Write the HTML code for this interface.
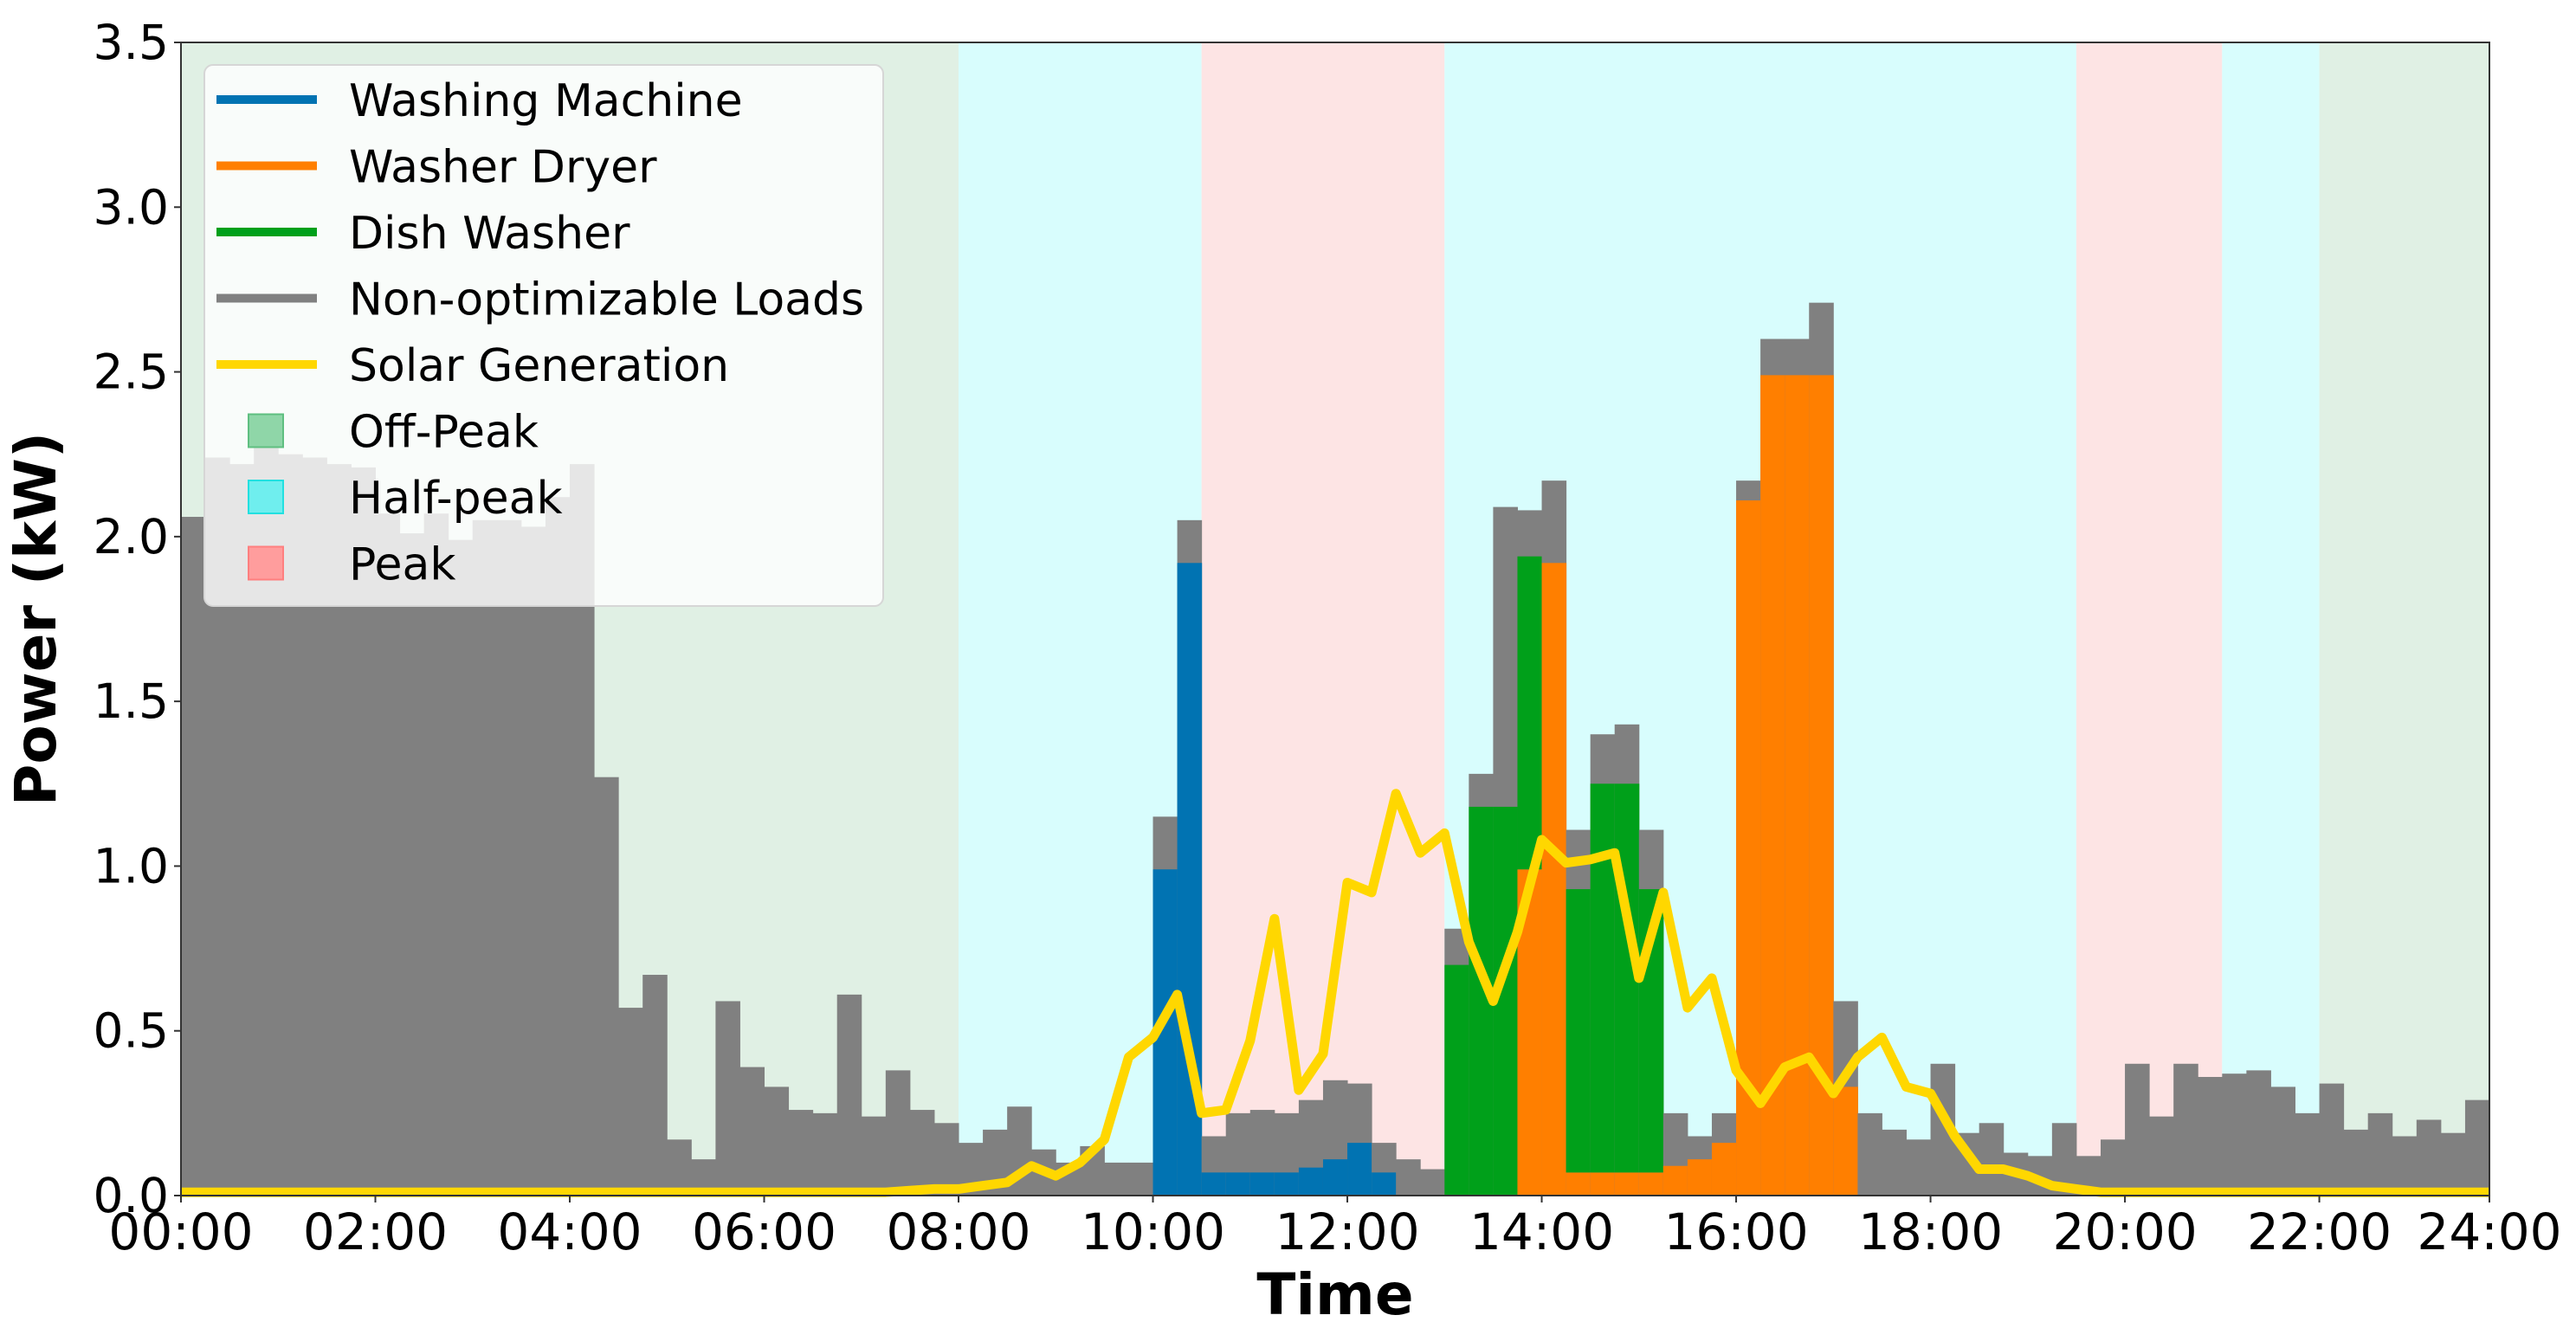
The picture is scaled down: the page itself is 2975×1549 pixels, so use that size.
<!DOCTYPE html>
<html><head><meta charset="utf-8"><style>
html,body{margin:0;padding:0;background:#fff;}
svg{display:block;font-family:"DejaVu Sans","Liberation Sans",sans-serif;}
</style></head><body>
<svg id="chart" width="2975" height="1549" viewBox="0 0 2975 1549" xmlns="http://www.w3.org/2000/svg">
<g id="bg"></g>
<g id="bars"></g>
<g id="solar"></g>
<rect x="209" y="49" width="2666" height="1332" fill="none" stroke="#333" stroke-width="2"/>
<g id="axes"></g>
<text x="1542" y="1518" font-size="66" font-weight="bold" text-anchor="middle">Time</text>
<text x="0" y="0" font-size="66" font-weight="bold" text-anchor="middle" transform="translate(64,715) rotate(-90)">Power (kW)</text>
<g id="legend"></g>
</svg>
<script>
const totalLoad=[2.06,2.24,2.22,2.28,2.25,2.24,2.22,2.21,2.07,2.01,2.07,1.99,2.05,2.05,2.03,2.12,
2.22,1.27,0.57,0.67,0.17,0.11,0.59,0.39,0.33,0.26,0.25,0.61,0.24,0.38,0.26,0.22,
0.16,0.20,0.27,0.14,0.10,0.15,0.10,0.10,1.15,2.05,0.18,0.25,0.26,0.25,0.29,0.35,
0.34,0.16,0.11,0.08,0.81,1.28,2.09,2.08,2.17,1.11,1.40,1.43,1.11,0.25,0.18,0.25,
2.17,2.60,2.60,2.71,0.59,0.25,0.20,0.17,0.40,0.19,0.22,0.13,0.12,0.22,0.12,0.17,
0.40,0.24,0.40,0.36,0.37,0.38,0.33,0.25,0.34,0.20,0.25,0.18,0.23,0.19,0.29];
const washingMachine=[0,0,0,0,0,0,0,0,0,0,0,0,0,0,0,0,0,0,0,0,0,0,0,0,0,0,0,0,0,0,0,0,
0,0,0,0,0,0,0,0,0.99,1.92,0.07,0.07,0.07,0.07,0.085,0.11,0.16,0.07,0,0,0,0,0,0,0,0,0,0,0,0,0,0,
0,0,0,0,0,0,0,0,0,0,0,0,0,0,0,0,0,0,0,0,0,0,0,0,0,0,0,0,0,0,0];
const washerDryer=[0,0,0,0,0,0,0,0,0,0,0,0,0,0,0,0,0,0,0,0,0,0,0,0,0,0,0,0,0,0,0,0,
0,0,0,0,0,0,0,0,0,0,0,0,0,0,0,0,0,0,0,0,0,0,0,0.99,1.92,0.07,0.07,0.07,0.07,0.09,0.11,0.16,
2.11,2.49,2.49,2.49,0.33,0,0,0,0,0,0,0,0,0,0,0,0,0,0,0,0,0,0,0,0,0,0,0,0,0,0];
const dishWasher=[0,0,0,0,0,0,0,0,0,0,0,0,0,0,0,0,0,0,0,0,0,0,0,0,0,0,0,0,0,0,0,0,
0,0,0,0,0,0,0,0,0,0,0,0,0,0,0,0,0,0,0,0,0.70,1.18,1.18,0.95,0,0.86,1.18,1.18,0.86,0,0,0,
0,0,0,0,0,0,0,0,0,0,0,0,0,0,0,0,0,0,0,0,0,0,0,0,0,0,0,0,0,0,0];
const solarGen=[0.01,0.01,0.01,0.01,0.01,0.01,0.01,0.01,0.01,0.01,0.01,0.01,0.01,0.01,0.01,0.01,
0.01,0.01,0.01,0.01,0.01,0.01,0.01,0.01,0.01,0.01,0.01,0.01,0.01,0.01,0.015,0.02,
0.02,0.03,0.04,0.09,0.06,0.10,0.17,0.42,0.48,0.61,0.25,0.26,0.47,0.84,0.32,0.43,
0.95,0.92,1.22,1.04,1.10,0.77,0.59,0.80,1.08,1.01,1.02,1.04,0.66,0.92,0.57,0.66,
0.38,0.28,0.39,0.42,0.31,0.42,0.48,0.33,0.31,0.18,0.08,0.08,0.06,0.03,0.02,0.01,
0.01,0.01,0.01,0.01,0.01,0.01,0.01,0.01,0.01,0.01,0.01,0.01,0.01,0.01,0.01,0.01];
const bandStarts=[0,32,42,52,78,84,88];
const bandEnds=[32,42,52,78,84,88,95];
const bandTypes=["off","half","peak","half","peak","half","off"];
const yTicks=[0,0.5,1.0,1.5,2.0,2.5,3.0,3.5];
const yTickLabels=["0.0","0.5","1.0","1.5","2.0","2.5","3.0","3.5"];
const xTicks=[0,8,16,24,32,40,48,56,64,72,80,88,95];
const xTickLabels=["00:00","02:00","04:00","06:00","08:00","10:00","12:00","14:00","16:00","18:00","20:00","22:00","24:00"];

const NS="http://www.w3.org/2000/svg";
const X0=209,X1=2875,Y0=1381,Y1=49,XMAX=95,YMAX=3.5;
const xs=i=>X0+(X1-X0)*i/XMAX;
const ys=v=>Y0-(Y0-Y1)*v/YMAX;
function mk(tag,attrs,parent){const e=document.createElementNS(NS,tag);for(const k in attrs)e.setAttribute(k,attrs[k]);parent.appendChild(e);return e;}
const bandColor={off:"#e0f0e4",half:"#d8fdfd",peak:"#fde4e4"};
const bg=document.getElementById("bg");
bandStarts.forEach((s,i)=>{
  const r=mk("rect",{x:xs(s),y:Y1,width:xs(bandEnds[i])-xs(s),height:Y0-Y1,fill:bandColor[bandTypes[i]]},bg);
  
  
});
const bars=document.getElementById("bars");
const colors={wm:"#0173b2",wd:"#ff7f00",dw:"#00a01a",gray:"#808080"};
totalLoad.forEach((t,i)=>{
  const x=xs(i),w=xs(i+1)-xs(i)+0.5;
  const g=mk("rect",{x:x,y:ys(t),width:w,height:Y0-ys(t),fill:colors.gray},bars);
  
  
  let base=0;
  [[washingMachine,"wm"],[washerDryer,"wd"],[dishWasher,"dw"]].forEach(([arr,k])=>{
    const v=arr[i];
    if(v>0){
      const r=mk("rect",{x:x,y:ys(base+v),width:w,height:ys(base)-ys(base+v),fill:colors[k]},bars);
      
      
      base+=v;
    }
  });
});
const solar=document.getElementById("solar");
const pts=solarGen.map((v,i)=>xs(Math.min(i,XMAX))+","+ys(v)).join(" ");
const pl=mk("polyline",{points:pts,fill:"none",stroke:"#ffd700","stroke-width":11,"stroke-linejoin":"round"},solar);


const axes=document.getElementById("axes");
yTicks.forEach((v,i)=>{
  const l=mk("line",{x1:X0-8,x2:X0,y1:ys(v),y2:ys(v),stroke:"#333","stroke-width":2},axes);
  
  
  const t=mk("text",{x:X0-14,y:ys(v)+19,"font-size":55,"text-anchor":"end"},axes);
  t.textContent=yTickLabels[i];
  
  
});
xTicks.forEach((v,i)=>{
  const l=mk("line",{x1:xs(v),x2:xs(v),y1:Y0,y2:Y0+8,stroke:"#333","stroke-width":2},axes);
  
  
  const t=mk("text",{x:xs(v),y:Y0+62,"font-size":58,"text-anchor":"middle"},axes);
  t.textContent=xTickLabels[i];
  
  
});
const legendNames=["Washing Machine","Washer Dryer","Dish Washer","Non-optimizable Loads","Solar Generation","Off-Peak","Half-peak","Peak"];
const legendColors=["#0173b2","#ff7f00","#00a01a","#808080","#ffd700","#8fd6a8","#6feeee","#ff9d9d"];
const legendEdges=["","","","","","#5fbf80","#22e0e0","#ff7f7f"];
const lg=document.getElementById("legend");
const box=mk("rect",{x:236,y:75,width:784,height:625,rx:10,fill:"rgba(255,255,255,0.8)",stroke:"#d6d6d6","stroke-width":2},lg);


legendNames.forEach((n,i)=>{
  const cy=115+i*76.5;
  if(i<5){
    const l=mk("line",{x1:250,x2:366,y1:cy,y2:cy,stroke:legendColors[i],"stroke-width":10},lg);
    
    
  } else {
    const r=mk("rect",{x:287,y:cy-19,width:40,height:38,fill:legendColors[i],stroke:legendEdges[i],"stroke-width":2},lg);
    
    
  }
  const t=mk("text",{x:403,y:cy+19,"font-size":52},lg);
  t.textContent=n;
  
  
});
</script>
</body></html>
